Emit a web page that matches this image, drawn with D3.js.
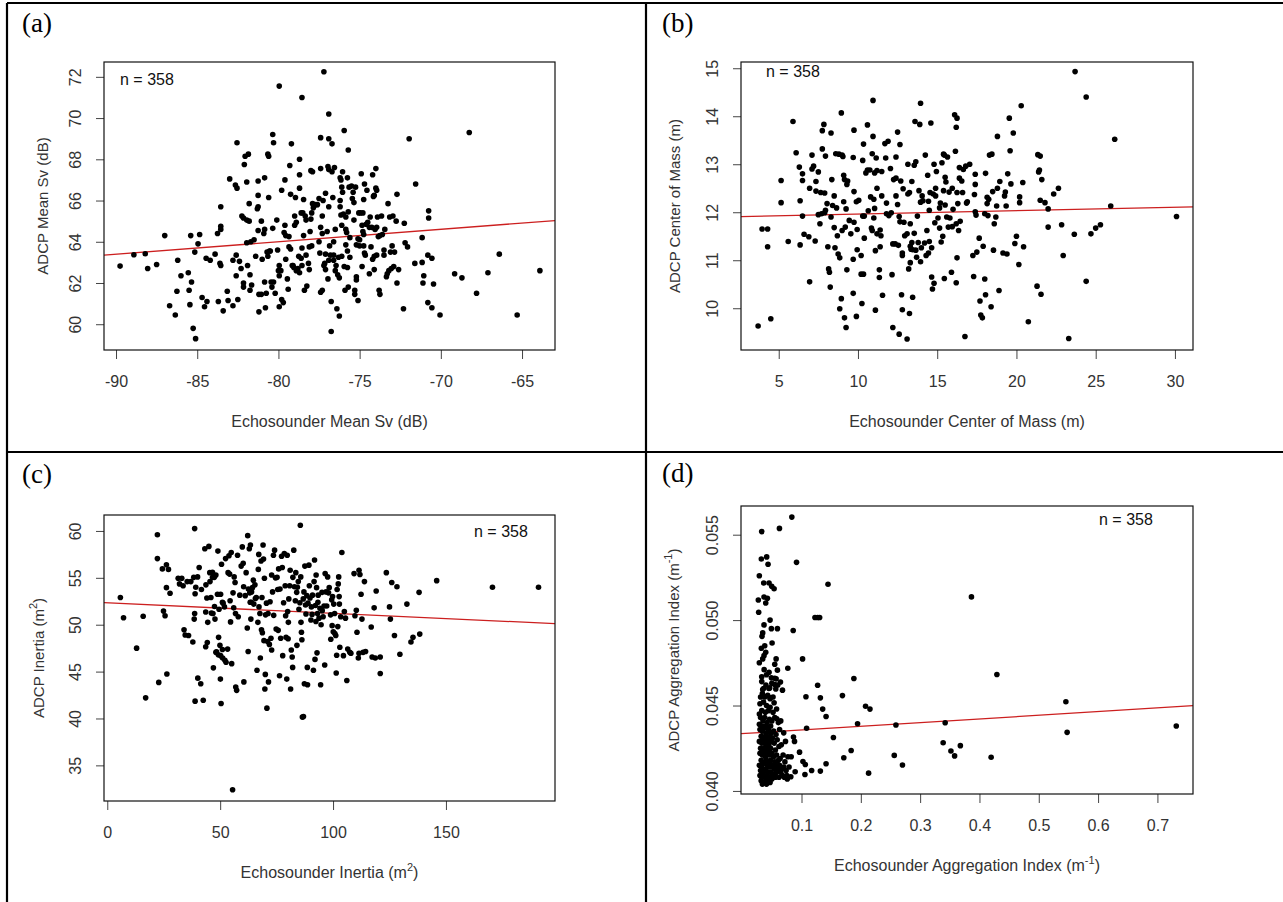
<!DOCTYPE html>
<html lang="en">
<head>
<meta charset="UTF-8">
<title>ADCP vs Echosounder</title>
<script src="https://d3js.org/d3.v7.min.js"></script>
<style>
    body { margin: 0; background: #fff; }
    svg { display: block; }
    .tick line { stroke: #444; }
    .tick text { fill: #333; }
</style>
</head>
<body>
<svg width="1283" height="902"></svg>
<script>

// ---- data ----
const nLabel = "n = 358";

// (a) mean Sv
const svPoints = [[-89.75,62.82],[-88.9,63.37],[-88.2,63.42],[-88.05,62.7],[-87.5,62.9],[-87.0,64.3],[-86.7,60.9],[-86.35,60.45],[-86.2,63.1],[-86.25,61.6],[-86.0,62.35],[-85.55,62.5],[-85.5,61.65],[-85.45,60.95],[-85.4,64.3],[-85.35,62.05],[-85.25,59.8],[-85.15,63.5],[-85.1,59.3],[-84.95,63.9],[-84.85,64.35],[-84.7,61.3],[-84.55,60.85],[-84.4,61.1],[-84.45,63.2],[-84.2,63.1],[-83.9,63.4],[-83.75,64.4],[-83.7,61.1],[-83.6,62.95],[-83.55,62.85],[-83.55,65.7],[-83.55,64.75],[-83.55,64.6],[-83.4,60.65],[-83.15,61.6],[-83.1,61.15],[-83.0,67.05],[-82.8,60.9],[-82.8,63.1],[-82.65,66.75],[-82.55,68.8],[-82.55,66.6],[-82.6,63.35],[-82.6,62.35],[-82.5,61.2],[-82.4,63.05],[-82.3,62.7],[-82.25,65.25],[-82.15,65.15],[-82.15,62.0],[-82.15,61.8],[-82.1,67.75],[-82.05,68.15],[-81.95,66.9],[-81.95,65.05],[-81.95,63.95],[-81.9,62.85],[-81.85,68.25],[-81.8,65.85],[-81.8,65.0],[-81.75,61.65],[-81.75,62.4],[-81.7,64.0],[-81.65,61.9],[-81.5,64.1],[-81.4,63.3],[-81.3,65.6],[-81.25,66.95],[-81.25,65.7],[-81.2,60.6],[-81.25,66.25],[-81.25,64.55],[-81.2,61.45],[-81.05,65.0],[-81.05,61.45],[-81.0,63.15],[-80.9,64.4],[-80.85,67.1],[-80.85,64.6],[-80.85,62.05],[-80.8,60.8],[-80.7,63.5],[-80.75,61.5],[-80.65,63.3],[-80.6,66.15],[-80.65,68.25],[-80.6,68.15],[-80.55,63.55],[-80.5,63.55],[-80.45,62.05],[-80.4,61.8],[-80.35,64.65],[-80.35,69.2],[-80.3,68.8],[-80.3,62.05],[-80.2,61.5],[-80.1,65.05],[-80.05,63.6],[-79.95,62.85],[-80.0,62.6],[-79.95,71.55],[-79.95,60.85],[-79.95,62.35],[-79.85,62.6],[-79.8,61.2],[-79.8,66.5],[-79.7,61.05],[-79.65,64.45],[-79.6,64.8],[-79.6,67.0],[-79.55,64.3],[-79.55,63.15],[-79.45,62.2],[-79.4,61.7],[-79.35,63.75],[-79.35,64.25],[-79.3,67.7],[-79.25,63.65],[-79.25,66.3],[-79.2,68.75],[-79.15,62.85],[-79.1,62.85],[-79.05,62.75],[-79.0,65.25],[-79.0,64.8],[-78.95,66.15],[-78.9,64.95],[-78.9,62.6],[-78.8,62.7],[-78.75,63.3],[-78.7,62.5],[-78.7,66.6],[-78.7,68.0],[-78.7,67.25],[-78.6,65.4],[-78.6,63.2],[-78.55,71.0],[-78.55,62.85],[-78.55,63.7],[-78.5,65.4],[-78.45,66.05],[-78.45,64.3],[-78.4,61.65],[-78.35,65.25],[-78.3,65.05],[-78.3,63.35],[-78.25,61.85],[-78.15,62.95],[-78.1,62.65],[-78.1,63.75],[-78.05,64.5],[-78.0,67.45],[-78.0,65.1],[-77.95,63.8],[-77.95,65.4],[-77.9,67.4],[-77.9,65.85],[-77.85,65.65],[-77.8,65.8],[-77.7,65.8],[-77.6,65.8],[-77.5,66.1],[-77.5,64.0],[-77.45,63.45],[-77.4,67.55],[-77.4,69.05],[-77.4,64.7],[-77.4,61.55],[-77.3,61.65],[-77.3,64.4],[-77.3,65.25],[-77.25,66.0],[-77.2,72.25],[-77.2,62.85],[-77.15,62.95],[-77.1,62.65],[-77.1,66.35],[-77.1,63.4],[-77.0,64.5],[-76.95,62.2],[-76.95,67.65],[-76.9,65.7],[-76.9,67.5],[-76.9,70.2],[-76.9,69.0],[-76.9,63.1],[-76.85,63.8],[-76.8,63.35],[-76.75,59.65],[-76.75,61.1],[-76.7,68.75],[-76.7,67.4],[-76.65,66.15],[-76.6,63.35],[-76.6,64.0],[-76.6,63.1],[-76.55,67.6],[-76.5,62.6],[-76.5,64.6],[-76.45,62.85],[-76.4,60.75],[-76.35,62.4],[-76.3,63.25],[-76.25,60.4],[-76.25,62.25],[-76.2,67.1],[-76.2,66.0],[-76.2,65.7],[-76.15,67.0],[-76.15,65.3],[-76.1,64.8],[-76.1,63.3],[-76.1,66.65],[-76.05,66.4],[-76.05,67.4],[-76.0,65.35],[-75.95,69.4],[-75.95,62.8],[-75.9,61.65],[-75.85,65.2],[-75.85,64.6],[-75.85,63.85],[-75.8,64.45],[-75.75,63.55],[-75.75,62.75],[-75.75,67.1],[-75.7,68.45],[-75.7,61.8],[-75.7,65.45],[-75.65,66.65],[-75.6,64.2],[-75.6,63.25],[-75.5,66.7],[-75.45,66.1],[-75.4,66.4],[-75.35,65.9],[-75.35,65.05],[-75.3,61.65],[-75.3,61.45],[-75.25,66.65],[-75.2,62.3],[-75.2,62.15],[-75.2,63.85],[-75.1,64.15],[-75.1,61.15],[-75.05,65.4],[-75.0,63.8],[-75.0,64.1],[-74.95,65.4],[-74.9,67.3],[-74.85,62.8],[-74.85,64.8],[-74.8,65.4],[-74.8,64.5],[-74.75,66.05],[-74.75,63.8],[-74.75,64.35],[-74.7,63.45],[-74.7,66.8],[-74.65,63.35],[-74.6,64.85],[-74.55,66.5],[-74.5,64.95],[-74.4,64.7],[-74.4,62.45],[-74.35,65.2],[-74.3,63.75],[-74.25,64.7],[-74.2,67.25],[-74.2,63.15],[-74.15,66.2],[-74.1,66.25],[-74.1,63.3],[-74.1,62.65],[-74.05,64.6],[-74.0,66.6],[-74.0,67.55],[-73.95,66.5],[-73.95,64.7],[-73.95,63.35],[-73.9,65.2],[-73.85,64.25],[-73.8,61.65],[-73.75,64.3],[-73.75,61.45],[-73.65,65.25],[-73.6,64.35],[-73.5,63.6],[-73.5,63.35],[-73.45,64.6],[-73.35,62.3],[-73.3,62.45],[-73.25,65.85],[-73.2,62.6],[-73.15,65.2],[-73.1,63.5],[-73.05,62.7],[-73.0,63.8],[-72.95,65.25],[-72.9,62.8],[-72.85,63.5],[-72.75,65.0],[-72.7,62.0],[-72.7,66.3],[-72.6,62.65],[-72.3,60.75],[-72.25,64.9],[-72.2,63.95],[-72.05,63.75],[-71.95,69.0],[-71.6,62.95],[-71.55,66.8],[-71.15,64.2],[-71.15,63.0],[-71.1,62.0],[-71.05,62.35],[-70.8,63.35],[-70.8,61.05],[-70.75,65.5],[-70.75,65.15],[-70.55,63.2],[-70.55,60.8],[-70.45,61.95],[-70.05,60.45],[-69.15,62.45],[-68.7,62.25],[-68.25,69.3],[-67.8,61.5],[-67.1,62.5],[-66.4,63.4],[-65.3,60.45],[-63.9,62.6]];
const svFit = [68.84, 0.0605];  // intercept, slope
const svXTicks = [-90, -85, -80, -75, -70, -65];
const svYTicks = [60, 62, 64, 66, 68, 70, 72];

// (b) center of mass
const comPoints = [[3.7,9.63],[3.95,11.65],[4.3,11.65],[4.3,11.28],[4.5,9.78],[5.15,12.66],[5.15,12.2],[5.6,11.39],[5.9,13.89],[6.1,13.24],[6.3,12.94],[6.35,12.24],[6.35,11.32],[6.5,12.8],[6.5,12.66],[6.5,11.92],[6.6,11.54],[6.9,11.49],[6.95,12.5],[6.95,10.55],[7.1,13.19],[7.1,12.9],[7.2,12.96],[7.3,11.4],[7.35,12.64],[7.35,12.44],[7.5,12.84],[7.5,11.95],[7.6,11.76],[7.65,12.41],[7.7,11.97],[7.75,13.32],[7.75,13.7],[7.85,13.83],[7.9,11.99],[7.9,12.4],[7.95,13.17],[7.95,12.04],[8.05,12.18],[8.1,11.28],[8.15,10.82],[8.2,10.75],[8.25,10.44],[8.3,13.65],[8.3,11.9],[8.35,12.68],[8.4,12.14],[8.5,12.34],[8.5,11.68],[8.55,11.26],[8.6,13.22],[8.65,12.09],[8.7,11.51],[8.75,11.13],[8.8,13.21],[8.85,11.05],[8.85,9.99],[8.95,14.07],[8.95,10.2],[9.0,13.19],[9.0,11.62],[9.05,13.16],[9.1,12.22],[9.1,12.77],[9.15,9.8],[9.15,12.68],[9.2,11.69],[9.25,9.6],[9.25,12.07],[9.3,12.58],[9.3,10.8],[9.35,12.65],[9.45,11.83],[9.55,11.55],[9.7,10.31],[9.7,11.02],[9.75,12.43],[9.75,13.71],[9.7,13.14],[9.75,11.79],[9.9,12.22],[9.9,9.83],[9.95,11.22],[9.95,11.64],[10.05,12.25],[10.2,11.1],[10.2,10.71],[10.25,10.1],[10.3,13.08],[10.3,11.92],[10.35,10.71],[10.35,13.42],[10.4,11.46],[10.4,11.92],[10.5,12.82],[10.6,13.82],[10.6,12.88],[10.65,12.03],[10.75,12.88],[10.8,12.32],[10.85,11.67],[10.9,11.62],[10.9,13.22],[10.95,14.33],[10.95,13.58],[11.0,12.27],[11.0,11.88],[11.05,12.82],[11.05,12.08],[11.1,9.96],[11.1,11.2],[11.15,13.13],[11.2,12.87],[11.2,12.5],[11.2,11.55],[11.35,10.8],[11.35,10.64],[11.4,11.28],[11.4,11.63],[11.45,11.51],[11.5,12.85],[11.5,12.34],[11.55,10.27],[11.7,13.43],[11.75,13.13],[11.8,11.97],[11.8,12.19],[11.9,13.48],[11.95,11.93],[12.05,12.91],[12.1,11.99],[12.15,10.7],[12.2,11.34],[12.2,9.6],[12.25,12.68],[12.35,11.34],[12.4,12.34],[12.4,12.71],[12.4,13.15],[12.5,13.67],[12.5,12.16],[12.55,11.31],[12.6,9.46],[12.6,11.91],[12.65,11.8],[12.65,13.41],[12.7,12.65],[12.75,10.28],[12.8,11.15],[12.8,11.1],[12.8,9.97],[12.85,12.49],[12.9,11.79],[12.95,11.51],[13.1,9.36],[13.1,11.55],[13.15,12.38],[13.15,13.0],[13.2,10.82],[13.25,12.41],[13.25,9.89],[13.3,11.29],[13.3,11.76],[13.3,10.95],[13.35,11.23],[13.4,11.37],[13.4,12.64],[13.45,10.23],[13.45,11.22],[13.55,11.56],[13.55,12.98],[13.6,13.89],[13.65,13.05],[13.65,11.21],[13.7,11.06],[13.75,11.92],[13.8,11.37],[13.85,12.45],[13.9,13.83],[13.95,12.21],[13.95,14.27],[13.95,10.97],[14.0,11.26],[14.05,12.34],[14.1,12.24],[14.2,11.36],[14.25,13.19],[14.3,11.1],[14.35,11.62],[14.4,12.77],[14.45,11.15],[14.45,12.23],[14.5,12.04],[14.5,11.39],[14.55,12.41],[14.6,13.86],[14.65,11.26],[14.65,10.65],[14.7,10.4],[14.75,12.38],[14.8,13.0],[14.8,10.52],[14.85,11.78],[14.9,12.34],[14.9,12.5],[14.95,12.85],[15.05,11.88],[15.15,12.09],[15.15,11.67],[15.2,12.19],[15.25,11.38],[15.3,13.03],[15.35,11.5],[15.4,13.21],[15.4,12.45],[15.45,10.62],[15.45,13.19],[15.5,12.15],[15.5,12.73],[15.55,12.63],[15.6,11.9],[15.65,13.15],[15.7,11.69],[15.75,12.42],[15.8,11.88],[15.9,10.75],[15.95,11.7],[15.95,12.5],[16.0,12.06],[16.1,14.03],[16.15,13.27],[16.2,13.77],[16.2,10.53],[16.2,11.76],[16.25,11.05],[16.25,12.41],[16.25,13.96],[16.3,12.18],[16.35,11.62],[16.4,12.93],[16.4,12.71],[16.45,11.81],[16.55,12.65],[16.6,12.41],[16.65,12.89],[16.75,9.41],[16.8,12.96],[16.85,12.19],[16.9,12.22],[17.05,13.0],[17.25,11.1],[17.3,10.66],[17.35,12.37],[17.4,12.01],[17.4,12.58],[17.4,12.79],[17.45,11.94],[17.5,11.17],[17.65,11.46],[17.7,10.15],[17.75,9.86],[17.85,9.8],[17.9,11.29],[18.0,11.97],[18.0,10.61],[18.05,10.28],[18.05,12.81],[18.15,12.31],[18.15,12.18],[18.2,11.93],[18.25,12.27],[18.3,13.19],[18.4,10.03],[18.45,13.21],[18.5,12.43],[18.55,11.21],[18.6,11.76],[18.7,11.9],[18.75,12.13],[18.8,13.58],[18.8,12.5],[18.9,10.37],[18.95,12.64],[19.15,11.15],[19.25,12.34],[19.3,12.42],[19.35,12.13],[19.4,11.13],[19.45,12.8],[19.55,13.96],[19.6,13.28],[19.65,12.59],[19.8,13.65],[19.9,11.35],[20.0,11.5],[20.15,10.91],[20.2,12.2],[20.2,12.32],[20.3,14.22],[20.4,12.62],[20.45,11.28],[20.75,9.72],[21.3,10.46],[21.35,13.2],[21.4,12.84],[21.45,12.88],[21.5,13.17],[21.5,12.25],[21.55,10.29],[21.6,12.68],[21.8,12.2],[22.0,12.07],[22.0,11.69],[22.35,12.38],[22.65,12.5],[22.85,11.74],[22.95,11.1],[23.3,9.37],[23.65,11.54],[23.7,14.93],[24.4,14.4],[24.4,10.56],[24.7,11.55],[25.0,11.67],[25.3,11.74],[25.95,12.13],[26.2,13.52],[30.1,11.91]];
const comFit = [11.891, 0.00712];
const comXTicks = [5, 10, 15, 20, 25, 30];
const comYTicks = [10, 11, 12, 13, 14, 15];

// (c) inertia
const inertiaPoints = [[5.8,52.9],[7.2,50.75],[13.0,47.5],[15.9,50.9],[17.0,42.2],[22.2,59.6],[22.2,57.05],[22.8,43.85],[24.4,55.95],[24.9,51.45],[25.6,50.95],[26.2,56.4],[26.2,53.95],[26.4,44.75],[27.1,55.9],[27.8,53.35],[31.4,54.95],[32.0,54.35],[33.0,54.95],[33.6,54.15],[34.0,49.45],[34.5,48.9],[35.4,54.6],[36.0,48.85],[37.0,54.6],[37.9,48.15],[38.3,55.05],[38.5,50.6],[38.7,60.25],[38.7,51.2],[38.9,53.3],[38.9,41.85],[39.2,54.0],[40.0,55.1],[40.1,44.3],[40.7,56.1],[41.4,43.7],[41.7,53.75],[42.5,41.95],[43.2,58.1],[43.6,51.35],[43.6,47.65],[43.7,54.25],[44.1,52.85],[44.3,48.1],[44.5,50.25],[45.0,58.35],[45.4,55.55],[45.5,54.6],[45.9,52.9],[46.1,51.25],[46.6,55.6],[46.6,55.05],[46.8,51.2],[47.0,45.4],[47.4,55.05],[47.5,51.95],[47.7,50.6],[48.1,47.05],[48.1,55.3],[48.4,47.1],[48.8,53.25],[49.0,57.85],[49.2,46.8],[49.3,48.65],[49.5,51.65],[49.9,47.8],[50.1,44.2],[50.2,46.7],[50.2,53.25],[50.4,41.6],[50.6,56.45],[51.0,52.4],[51.0,47.35],[51.1,46.45],[51.3,52.3],[51.9,51.9],[52.1,46.2],[52.4,57.05],[52.6,46.0],[53.3,47.4],[53.5,55.55],[53.9,57.35],[54.2,55.4],[54.4,52.55],[54.6,50.3],[54.9,57.7],[55.1,45.85],[55.5,32.4],[55.7,53.4],[56.0,51.8],[56.2,55.1],[56.6,54.5],[56.8,51.2],[56.9,43.35],[57.3,43.0],[57.7,57.4],[58.0,50.85],[58.7,53.15],[59.3,56.25],[59.8,58.3],[60.2,56.55],[60.4,54.05],[60.5,43.9],[61.1,53.1],[61.5,55.55],[62.0,49.65],[62.2,59.5],[62.4,47.15],[62.5,53.8],[62.9,58.1],[63.1,53.4],[63.3,52.4],[63.4,58.5],[63.6,50.6],[63.8,52.4],[63.9,53.5],[64.3,53.95],[64.7,54.75],[64.9,52.2],[65.4,54.25],[65.6,52.8],[66.0,52.9],[66.3,45.15],[66.7,50.25],[66.9,55.9],[67.1,57.5],[67.2,51.9],[67.6,51.2],[67.8,46.45],[68.1,56.8],[68.3,49.45],[68.5,52.9],[68.7,49.15],[69.0,58.5],[69.2,57.0],[69.4,48.3],[69.6,54.95],[69.8,43.15],[70.0,44.7],[70.1,51.05],[70.5,52.3],[70.7,41.1],[71.0,48.2],[71.2,51.2],[71.4,43.9],[71.8,47.9],[72.1,52.45],[72.5,48.55],[72.8,55.3],[72.8,47.3],[73.2,53.5],[73.6,57.4],[73.7,51.0],[74.1,57.95],[74.5,55.0],[74.8,49.55],[75.2,55.05],[75.5,53.75],[75.7,49.4],[75.9,55.95],[76.3,44.55],[76.5,53.8],[76.8,48.55],[77.2,57.3],[77.5,56.1],[77.7,46.7],[78.1,52.35],[78.4,57.6],[78.8,54.15],[79.0,50.95],[79.2,48.65],[79.5,44.2],[79.7,57.4],[79.9,51.4],[80.1,48.5],[80.2,50.25],[80.4,52.75],[80.8,54.15],[81.0,55.8],[81.2,43.15],[81.5,47.3],[81.9,46.55],[82.1,45.45],[82.2,55.05],[82.6,57.95],[82.9,54.05],[83.3,52.55],[83.5,55.55],[83.9,53.45],[84.0,47.8],[84.2,54.0],[84.6,54.6],[84.9,51.65],[85.3,52.35],[85.5,60.6],[85.7,55.1],[85.8,50.25],[86.0,49.2],[86.2,48.4],[86.4,40.15],[86.8,52.75],[86.9,40.2],[87.1,53.5],[87.3,43.7],[87.5,56.25],[87.8,52.1],[88.0,51.15],[88.4,53.1],[88.6,45.45],[88.7,43.6],[88.9,52.3],[89.3,56.35],[89.5,54.15],[89.8,52.85],[90.2,50.5],[90.4,51.9],[90.7,51.1],[90.9,53.15],[91.3,45.15],[91.6,54.6],[91.8,56.9],[92.0,46.3],[92.2,52.05],[92.4,50.35],[92.5,55.3],[92.7,53.95],[92.9,47.0],[93.1,51.2],[93.3,52.4],[93.4,53.15],[93.8,50.7],[94.2,51.75],[94.5,43.6],[94.7,50.0],[95.1,53.45],[95.2,51.5],[95.6,50.85],[96.0,52.0],[96.3,45.7],[96.5,55.45],[96.9,53.5],[97.2,52.0],[97.6,55.1],[98.0,53.4],[98.3,53.95],[98.9,51.05],[99.0,48.45],[99.4,52.65],[99.6,49.9],[99.8,53.0],[100.1,49.25],[100.3,52.2],[100.7,51.2],[100.8,49.05],[101.2,48.85],[101.4,44.85],[101.6,46.75],[101.8,53.75],[102.1,49.8],[102.3,54.35],[102.5,55.1],[102.7,53.0],[102.8,52.2],[103.0,47.6],[103.4,50.85],[103.9,57.7],[104.6,46.7],[105.0,51.4],[105.5,50.7],[106.1,44.05],[106.5,47.4],[107.4,47.05],[107.9,46.95],[109.3,55.45],[109.7,50.95],[110.3,51.55],[110.6,49.2],[111.2,46.45],[111.5,55.8],[111.5,46.95],[111.9,55.35],[112.4,53.25],[112.8,50.6],[113.3,47.05],[113.9,54.6],[114.4,47.15],[116.9,49.75],[117.3,46.55],[118.2,51.8],[118.7,46.45],[119.1,53.6],[120.9,46.55],[120.9,44.8],[123.6,55.55],[125.0,51.9],[125.4,50.6],[126.0,54.5],[127.2,48.85],[128.3,54.05],[129.6,46.85],[132.7,52.2],[134.5,48.15],[135.4,48.65],[138.1,53.45],[138.4,49.0],[145.9,54.7],[170.6,54.0],[191.0,54.0]];
const inertiaFit = [52.33, -0.01117];
const inertiaXTicks = [0, 50, 100, 150];
const inertiaYTicks = [35, 40, 45, 50, 55, 60];

// (d) aggregation index
const aggPoints = [[0.0837,0.05603],[0.0329,0.05518],[0.0628,0.05537],[0.0323,0.05358],[0.0413,0.0537],[0.0436,0.05327],[0.0916,0.05338],[0.0289,0.0526],[0.0363,0.05217],[0.0453,0.05217],[0.0498,0.05198],[0.0538,0.05184],[0.1447,0.0521],[0.0368,0.05135],[0.0425,0.05128],[0.0272,0.05118],[0.0397,0.051],[0.0278,0.05046],[0.1227,0.05015],[0.1272,0.05015],[0.1306,0.05015],[0.047,0.05],[0.0368,0.04972],[0.0492,0.0495],[0.0594,0.0495],[0.0346,0.04925],[0.0334,0.04905],[0.086,0.04939],[0.0504,0.04866],[0.038,0.0485],[0.0323,0.04835],[0.0397,0.04812],[0.0368,0.04792],[0.1018,0.04773],[0.0572,0.04773],[0.0346,0.04773],[0.0289,0.0475],[0.0549,0.04742],[0.0769,0.04718],[0.0453,0.04695],[0.0594,0.04707],[0.0329,0.04668],[0.0492,0.04662],[0.0572,0.04656],[0.1883,0.04658],[0.0645,0.04638],[0.0464,0.04603],[0.0549,0.04623],[0.0346,0.04594],[0.0566,0.04597],[0.0679,0.0459],[0.1272,0.04619],[0.047,0.04545],[0.1075,0.04551],[0.1318,0.04545],[0.169,0.04558],[0.0538,0.04516],[0.1357,0.04479],[0.208,0.04496],[0.2154,0.04479],[0.1414,0.04436],[0.0583,0.04422],[0.1945,0.04393],[0.1086,0.04367],[0.1538,0.04313],[0.0865,0.04315],[0.0882,0.0429],[0.0967,0.04227],[0.1837,0.04237],[0.1713,0.04194],[0.0826,0.042],[0.1024,0.04172],[0.1064,0.04155],[0.1414,0.04159],[0.1171,0.0412],[0.1318,0.04116],[0.1058,0.04096],[0.2131,0.04104],[0.0893,0.04112],[0.0753,0.0409],[0.082,0.04083],
    [0.2564,0.04208],[0.2702,0.04152],[0.2592,0.04386],[0.3388,0.04282],[0.3422,0.04399],[0.3519,0.04234],[0.3581,0.04205],[0.3678,0.04265],[0.3865,0.05136],[0.4197,0.04197],[0.4294,0.04682],[0.5457,0.04522],[0.5478,0.04343],[0.7318,0.0438],
    [0.031,0.0455],[0.034,0.0457],[0.038,0.0455],[0.043,0.0456],[0.047,0.0454],[0.052,0.0455],[0.036,0.046],[0.04,0.0462],[0.033,0.0464],[0.045,0.046],[0.05,0.0463],[0.041,0.0468],[0.055,0.0466],[0.06,0.0462],[0.037,0.0471],
    [0.03,0.0451],[0.036,0.0452],[0.041,0.045],[0.047,0.0449],[0.033,0.0447],[0.039,0.0446],[0.044,0.0447],[0.052,0.0446],[0.029,0.0445],[0.058,0.0448],
    [0.031,0.0443],[0.035,0.0441],[0.038,0.0443],[0.042,0.044],[0.046,0.0442],[0.05,0.0441],[0.055,0.0443],[0.061,0.044],[0.029,0.0439],[0.033,0.0438],[0.04,0.0438],[0.048,0.0438],[0.065,0.0441],
    [0.03,0.0436],[0.034,0.0435],[0.037,0.0437],[0.041,0.0434],[0.044,0.0436],[0.049,0.0434],[0.053,0.0435],[0.057,0.0433],[0.063,0.0436],[0.07,0.0434],[0.032,0.0432],[0.036,0.0431],[0.039,0.0432],[0.043,0.0431],[0.047,0.0432],[0.051,0.0431],
    [0.029,0.0429],[0.033,0.0428],[0.035,0.043],[0.038,0.0428],[0.042,0.0429],[0.045,0.0427],[0.049,0.0429],[0.054,0.0428],[0.059,0.043],[0.066,0.0427],[0.073,0.0429],[0.031,0.0425],[0.037,0.0425],[0.04,0.0426],[0.044,0.0424],[0.048,0.0425],[0.056,0.0424],[0.062,0.0426],
    [0.03,0.0422],[0.034,0.0421],[0.036,0.0423],[0.039,0.042],[0.042,0.0422],[0.046,0.0421],[0.05,0.0422],[0.053,0.042],[0.058,0.0421],[0.064,0.0419],[0.069,0.0421],[0.077,0.042],[0.032,0.0418],[0.038,0.0417],[0.041,0.0418],[0.045,0.0417],[0.048,0.0418],[0.055,0.0417],[0.061,0.0418],[0.072,0.0417],
    [0.029,0.0415],[0.033,0.0414],[0.036,0.0416],[0.04,0.0413],[0.043,0.0415],[0.047,0.0414],[0.051,0.0415],[0.054,0.0413],[0.057,0.0415],[0.06,0.0413],[0.063,0.0415],[0.067,0.0413],[0.07,0.0414],[0.074,0.0412],[0.079,0.0414],[0.031,0.0412],[0.035,0.0411],[0.038,0.0412],[0.044,0.0411],[0.049,0.0411],[0.058,0.0411],[0.065,0.0411],
    [0.03,0.0409],[0.033,0.0408],[0.037,0.0409],[0.04,0.0407],[0.042,0.0409],[0.046,0.0408],[0.05,0.0407],[0.053,0.0409],[0.056,0.0408],[0.062,0.0408],[0.068,0.0409],[0.071,0.0408],[0.076,0.0407],[0.032,0.0406],[0.035,0.0405],[0.039,0.0405],[0.043,0.0406],[0.047,0.0405],[0.034,0.0404],[0.041,0.0404]];
const aggFit = [0.043354, 0.00215];
const aggXTicks = [0.1, 0.2, 0.3, 0.4, 0.5, 0.6, 0.7];
const aggYTicks = [0.040, 0.045, 0.050, 0.055];

// R prints negatives with a plain hyphen
const plain = d => String(d);

// ---- layout ----
const panels = [
    {tag: "(a)", tagX: 22, tagY: 32, pts: svPoints, fit: svFit, xTicks: svXTicks, yTicks: svYTicks,
     xDom: [-90.74, -62.97], yDom: [58.75, 72.72], box: {l: 104, r: 555, t: 62, b: 350},
     nX: 120, nY: 85, yTitleX: 48, xFmt: plain, yFmt: plain,
     xTitle: [["Echosounder Mean Sv (dB)"]], yTitle: [["ADCP Mean Sv (dB)"]]},
    {tag: "(b)", tagX: 662, tagY: 32, pts: comPoints, fit: comFit, xTicks: comXTicks, yTicks: comYTicks,
     xDom: [2.62, 31.14], yDom: [9.13, 15.13], box: {l: 741, r: 1193, t: 62, b: 350},
     nX: 766, nY: 77, yTitleX: 680, xFmt: plain, yFmt: plain,
     xTitle: [["Echosounder Center of Mass (m)"]], yTitle: [["ADCP Center of Mass (m)"]]},
    {tag: "(c)", tagX: 22, tagY: 483, pts: inertiaPoints, fit: inertiaFit, xTicks: inertiaXTicks, yTicks: inertiaYTicks,
     xDom: [-1.45, 198.3], yDom: [31.2, 61.7], box: {l: 104, r: 555, t: 515, b: 801},
     nX: 474, nY: 537, yTitleX: 44, xFmt: plain, yFmt: plain,
     xTitle: [["Echosounder Inertia (m"], ["2", true], [")"]], yTitle: [["ADCP Inertia (m"], ["2", true], [")"]]},
    {tag: "(d)", tagX: 662, tagY: 482, pts: aggPoints, fit: aggFit, xTicks: aggXTicks, yTicks: aggYTicks,
     xDom: [-0.002, 0.760], yDom: [0.03982, 0.05668], box: {l: 741, r: 1193, t: 506, b: 794},
     nX: 1099, nY: 525, yTitleX: 679, xFmt: d3.format(".1f"), yFmt: d3.format(".3f"),
     xTitle: [["Echosounder Aggregation Index (m"], ["-1", true], [")"]], yTitle: [["ADCP Aggregation Index (m"], ["-1", true], [")"]]}
];

const svg = d3.select("svg");
svg.append("rect").attr("width", 1283).attr("height", 902).attr("fill", "#fff");

const sans = "Liberation Sans, Arial, sans-serif";

// outer frame lines
const frame = [[7, 3, 1283, 3], [7, 3, 7, 902], [646, 3, 646, 902], [7, 452, 1283, 452]];
svg.selectAll(".frame").data(frame).enter().append("line")
    .attr("x1", d => d[0]).attr("y1", d => d[1]).attr("x2", d => d[2]).attr("y2", d => d[3])
    .attr("stroke", "#000").attr("stroke-width", 2.2);

function addRich(sel, parts, supShift) {
    parts.forEach((p, i) => {
        const t = sel.append("tspan").text(p[0]);
        if (p[1]) t.attr("font-size", 11).attr("dy", -supShift);
        else if (i > 0 && parts[i - 1][1]) t.attr("dy", supShift);
    });
}

panels.forEach(p => {
    const b = p.box;
    const x = d3.scaleLinear().domain(p.xDom).range([b.l, b.r]);
    const y = d3.scaleLinear().domain(p.yDom).range([b.b, b.t]);

    // axes
    const gx = svg.append("g")
        .attr("transform", `translate(0,${b.b})`)
        .call(d3.axisBottom(x).tickValues(p.xTicks).tickFormat(p.xFmt).tickSize(9).tickSizeOuter(0))
        .attr("font-family", sans).attr("font-size", 16);
    gx.select(".domain").remove();
    gx.selectAll(".tick text").attr("y", 37).attr("dy", 0);

    const gy = svg.append("g")
        .attr("transform", `translate(${b.l},0)`)
        .call(d3.axisLeft(y).tickValues(p.yTicks).tickFormat(p.yFmt).tickSize(8).tickSizeOuter(0))
        .attr("font-family", sans).attr("font-size", 16);
    gy.select(".domain").remove();
    gy.selectAll(".tick text")
        .attr("transform", "rotate(-90)")
        .attr("x", 0).attr("y", -23).attr("dy", 0)
        .attr("text-anchor", "middle");

    // regression line
    svg.append("line")
        .attr("x1", x(p.xDom[0])).attr("y1", y(p.fit[0] + p.fit[1] * p.xDom[0]))
        .attr("x2", x(p.xDom[1])).attr("y2", y(p.fit[0] + p.fit[1] * p.xDom[1]))
        .attr("stroke", "#cc1f1f").attr("stroke-width", 1.3);

    // points
    svg.append("g").selectAll("circle")
        .data(p.pts)
        .enter()
        .append("circle")
        .attr("cx", d => x(d[0]))
        .attr("cy", d => y(d[1]))
        .attr("r", 2.8)
        .attr("fill", "#000");

    // plot box
    svg.append("rect")
        .attr("x", b.l).attr("y", b.t)
        .attr("width", b.r - b.l).attr("height", b.b - b.t)
        .attr("fill", "none").attr("stroke", "#111").attr("stroke-width", 1.2);

    svg.append("text").attr("x", p.nX).attr("y", p.nY)
        .attr("font-family", sans).attr("font-size", 16).attr("fill", "#111")
        .text(nLabel);

    // titles
    const xt = svg.append("text")
        .attr("x", (b.l + b.r) / 2).attr("y", b.b + 77)
        .attr("text-anchor", "middle")
        .attr("font-family", sans).attr("font-size", 16).attr("fill", "#333");
    addRich(xt, p.xTitle, 7);

    const yt = svg.append("text")
        .attr("transform", `translate(${p.yTitleX},${(b.t + b.b) / 2}) rotate(-90)`)
        .attr("text-anchor", "middle")
        .attr("font-family", sans).attr("font-size", 15).attr("fill", "#333");
    addRich(yt, p.yTitle, 7);

    svg.append("text").attr("x", p.tagX).attr("y", p.tagY)
        .attr("font-family", "Liberation Serif, Times New Roman, serif")
        .attr("font-size", 27).attr("fill", "#000")
        .text(p.tag);
});

</script>
</body>
</html>
